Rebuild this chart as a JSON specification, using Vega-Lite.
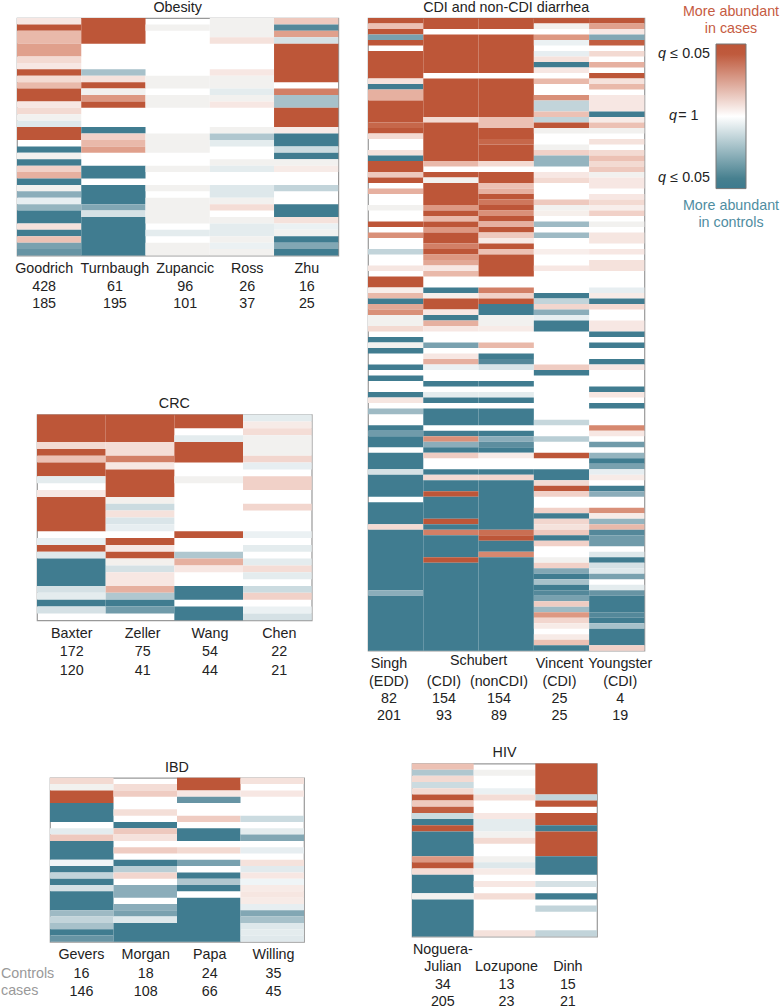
{"$schema":"https://vega.github.io/schema/vega-lite/v6.json","padding":0,"spacing":5,"config":{"view":{"stroke":null},"font":"Liberation Sans","title":{"fontWeight":"normal","fontSize":14.3,"offset":3,"color":"#222"},"text":{"font":"Liberation Sans","fontSize":14.3},"axis":{"labelFont":"Liberation Sans","labelFontSize":14.3,"labelColor":"#222","domain":false,"ticks":false,"grid":false,"title":null,"labelAngle":0,"labelBound":false,"labelFlush":false,"labelOverlap":false,"labelPadding":6,"labelBaseline":"top"}},
"hconcat":[
{"spacing":28,"hconcat":[
{"spacing":80.8,"vconcat":[
{"spacing":84.6,"vconcat":[
{"bounds":"flush","spacing":0,"hconcat":[
{"width":16.7,"height":1,"data":{"values":[{}]},"mark":{"type":"rect","opacity":0},"encoding":{}},
{"width":321.3,"height":237.5,"title":"Obesity","view":{"stroke":"#999","strokeWidth":1.2},"data":{"values":[
{"s":"Goodrich","a":0,"b":1,"v":0.12},{"s":"Goodrich","a":1,"b":2,"v":1},{"s":"Goodrich","a":2,"b":4,"v":0.4},{"s":"Goodrich","a":4,"b":6,"v":0.55},{"s":"Goodrich","a":6,"b":7,"v":0.2},{"s":"Goodrich","a":7,"b":8,"v":0.12},{"s":"Goodrich","a":8,"b":9,"v":1},{"s":"Goodrich","a":9,"b":10,"v":0.2},{"s":"Goodrich","a":10,"b":11,"v":0.4},{"s":"Goodrich","a":11,"b":13,"v":1},{"s":"Goodrich","a":13,"b":14,"v":0.12},{"s":"Goodrich","a":14,"b":15,"v":0.2},{"s":"Goodrich","a":15,"b":16,"v":0.04},{"s":"Goodrich","a":16,"b":17,"v":-0.15},{"s":"Goodrich","a":17,"b":19,"v":1},{"s":"Goodrich","a":20,"b":21,"v":-1},{"s":"Goodrich","a":21,"b":22,"v":0.04},{"s":"Goodrich","a":22,"b":23,"v":-1},{"s":"Goodrich","a":23,"b":24,"v":0.25},{"s":"Goodrich","a":24,"b":25,"v":0.45},{"s":"Goodrich","a":25,"b":26,"v":-1},{"s":"Goodrich","a":26,"b":27,"v":0.04},{"s":"Goodrich","a":27,"b":28,"v":-0.6},{"s":"Goodrich","a":28,"b":29,"v":-0.1},{"s":"Goodrich","a":29,"b":30,"v":-0.55},{"s":"Goodrich","a":30,"b":32,"v":-1},{"s":"Goodrich","a":32,"b":33,"v":0.15},{"s":"Goodrich","a":33,"b":34,"v":-1},{"s":"Goodrich","a":34,"b":35,"v":0.35},{"s":"Goodrich","a":35,"b":36,"v":-0.7},{"s":"Goodrich","a":36,"b":37,"v":-0.8},
{"s":"Turnbaugh","a":0,"b":4,"v":1},{"s":"Turnbaugh","a":8,"b":9,"v":-0.45},{"s":"Turnbaugh","a":9,"b":10,"v":0.15},{"s":"Turnbaugh","a":10,"b":11,"v":1},{"s":"Turnbaugh","a":11,"b":12,"v":0.04},{"s":"Turnbaugh","a":12,"b":13,"v":0.6},{"s":"Turnbaugh","a":13,"b":14,"v":1},{"s":"Turnbaugh","a":17,"b":18,"v":-1},{"s":"Turnbaugh","a":18,"b":19,"v":0.25},{"s":"Turnbaugh","a":19,"b":20,"v":0.4},{"s":"Turnbaugh","a":20,"b":21,"v":0.55},{"s":"Turnbaugh","a":23,"b":25,"v":-1},{"s":"Turnbaugh","a":26,"b":29,"v":-1},{"s":"Turnbaugh","a":29,"b":30,"v":-0.65},{"s":"Turnbaugh","a":30,"b":31,"v":-0.2},{"s":"Turnbaugh","a":31,"b":37,"v":-1},
{"s":"Zupancic","a":1,"b":2,"v":0.04},{"s":"Zupancic","a":9,"b":11,"v":0.04},{"s":"Zupancic","a":12,"b":14,"v":0.04},{"s":"Zupancic","a":18,"b":21,"v":0.04},{"s":"Zupancic","a":23,"b":24,"v":0.04},{"s":"Zupancic","a":26,"b":27,"v":0.04},{"s":"Zupancic","a":28,"b":32,"v":0.04},{"s":"Zupancic","a":33,"b":34,"v":-0.12},{"s":"Zupancic","a":35,"b":37,"v":0.04},
{"s":"Ross","a":0,"b":3,"v":0.04},{"s":"Ross","a":3,"b":4,"v":0.15},{"s":"Ross","a":8,"b":9,"v":0.12},{"s":"Ross","a":9,"b":11,"v":0.04},{"s":"Ross","a":11,"b":12,"v":-0.12},{"s":"Ross","a":12,"b":13,"v":0.04},{"s":"Ross","a":13,"b":14,"v":0.12},{"s":"Ross","a":17,"b":18,"v":0.04},{"s":"Ross","a":18,"b":19,"v":-0.4},{"s":"Ross","a":19,"b":20,"v":-0.12},{"s":"Ross","a":22,"b":23,"v":0.04},{"s":"Ross","a":23,"b":24,"v":-0.12},{"s":"Ross","a":26,"b":28,"v":-0.15},{"s":"Ross","a":28,"b":29,"v":0.04},{"s":"Ross","a":29,"b":30,"v":0.18},{"s":"Ross","a":31,"b":32,"v":0.04},{"s":"Ross","a":32,"b":34,"v":-0.12},{"s":"Ross","a":34,"b":35,"v":0.04},{"s":"Ross","a":35,"b":36,"v":-0.08},{"s":"Ross","a":36,"b":37,"v":0.04},
{"s":"Zhu","a":0,"b":1,"v":0.3},{"s":"Zhu","a":1,"b":2,"v":-0.9},{"s":"Zhu","a":2,"b":3,"v":0.55},{"s":"Zhu","a":3,"b":4,"v":-0.2},{"s":"Zhu","a":4,"b":10,"v":1},{"s":"Zhu","a":11,"b":12,"v":0.75},{"s":"Zhu","a":12,"b":14,"v":-0.45},{"s":"Zhu","a":14,"b":17,"v":1},{"s":"Zhu","a":17,"b":18,"v":0.1},{"s":"Zhu","a":18,"b":20,"v":-1},{"s":"Zhu","a":20,"b":21,"v":-0.25},{"s":"Zhu","a":21,"b":22,"v":-1},{"s":"Zhu","a":22,"b":23,"v":0.04},{"s":"Zhu","a":23,"b":24,"v":0.1},{"s":"Zhu","a":26,"b":27,"v":-0.3},{"s":"Zhu","a":29,"b":31,"v":-1},{"s":"Zhu","a":31,"b":32,"v":0.15},{"s":"Zhu","a":32,"b":33,"v":-0.08},{"s":"Zhu","a":33,"b":34,"v":0.04},{"s":"Zhu","a":34,"b":35,"v":-1},{"s":"Zhu","a":35,"b":36,"v":-0.65},{"s":"Zhu","a":36,"b":37,"v":-1}]},
"mark":"rect","encoding":{"x":{"field":"s","type":"nominal","scale":{"domain":["Goodrich","Turnbaugh","Zupancic","Ross","Zhu"],"paddingInner":0,"paddingOuter":0},"axis":{"labelLineHeight":17.7,"labelExpr":"{'Goodrich':['Goodrich','428','185'],'Turnbaugh':['Turnbaugh','61','195'],'Zupancic':['Zupancic','96','101'],'Ross':['Ross','26','37'],'Zhu':['Zhu','16','25']}[datum.label]","labelOffset":{"expr":"{'Goodrich':-5,'Turnbaugh':1.5,'Zupancic':7.5,'Ross':5.3,'Zhu':0.7}[datum.value]"}}},"y":{"field":"a","type":"quantitative","scale":{"domain":[0,37],"reverse":true,"nice":false,"zero":false},"axis":null},"y2":{"field":"b"},"color":{"field":"v","type":"quantitative","legend":null,"scale":{"domain":[-1,-0.08,0,0.04,0.08,1],"range":["#407c90","#ebf1f3","#ffffff","#f2f1ef","#f8eeeb","#bd5638"]}}}}]},
{"bounds":"flush","spacing":0,"hconcat":[
{"width":37,"height":1,"data":{"values":[{}]},"mark":{"type":"rect","opacity":0},"encoding":{}},
{"width":274.7,"height":205.7,"title":"CRC","view":{"stroke":"#999","strokeWidth":1.2},"data":{"values":[
{"s":"Baxter","a":0,"b":4,"v":1},{"s":"Baxter","a":4,"b":5,"v":0.2},{"s":"Baxter","a":5,"b":6,"v":1},{"s":"Baxter","a":6,"b":7,"v":0.35},{"s":"Baxter","a":7,"b":9,"v":1},{"s":"Baxter","a":9,"b":10,"v":-0.12},{"s":"Baxter","a":11,"b":12,"v":0.12},{"s":"Baxter","a":12,"b":17,"v":1},{"s":"Baxter","a":18,"b":19,"v":-0.1},{"s":"Baxter","a":19,"b":20,"v":1},{"s":"Baxter","a":20,"b":21,"v":-0.15},{"s":"Baxter","a":21,"b":25,"v":-1},{"s":"Baxter","a":25,"b":26,"v":-0.2},{"s":"Baxter","a":26,"b":27,"v":-0.12},{"s":"Baxter","a":27,"b":28,"v":-1},{"s":"Baxter","a":28,"b":29,"v":-0.2},
{"s":"Zeller","a":0,"b":4,"v":1},{"s":"Zeller","a":4,"b":6,"v":0.18},{"s":"Zeller","a":6,"b":7,"v":0.75},{"s":"Zeller","a":7,"b":8,"v":0.12},{"s":"Zeller","a":8,"b":12,"v":1},{"s":"Zeller","a":12,"b":13,"v":0.05},{"s":"Zeller","a":13,"b":14,"v":-0.25},{"s":"Zeller","a":14,"b":15,"v":0.15},{"s":"Zeller","a":15,"b":16,"v":-0.17},{"s":"Zeller","a":16,"b":17,"v":-0.1},{"s":"Zeller","a":18,"b":19,"v":1},{"s":"Zeller","a":19,"b":20,"v":0.12},{"s":"Zeller","a":20,"b":21,"v":1},{"s":"Zeller","a":21,"b":22,"v":0.05},{"s":"Zeller","a":22,"b":23,"v":-0.2},{"s":"Zeller","a":23,"b":25,"v":0.12},{"s":"Zeller","a":25,"b":26,"v":0.45},{"s":"Zeller","a":26,"b":27,"v":-0.4},{"s":"Zeller","a":27,"b":28,"v":-1},{"s":"Zeller","a":28,"b":29,"v":-0.75},
{"s":"Wang","a":0,"b":2,"v":1},{"s":"Wang","a":3,"b":4,"v":-0.12},{"s":"Wang","a":4,"b":7,"v":1},{"s":"Wang","a":9,"b":10,"v":0.04},{"s":"Wang","a":17,"b":18,"v":1},{"s":"Wang","a":20,"b":21,"v":-0.4},{"s":"Wang","a":21,"b":22,"v":0.45},{"s":"Wang","a":22,"b":23,"v":0.12},{"s":"Wang","a":25,"b":27,"v":-1},{"s":"Wang","a":28,"b":30,"v":-1},
{"s":"Chen","a":0,"b":1,"v":-0.12},{"s":"Chen","a":1,"b":2,"v":0.1},{"s":"Chen","a":2,"b":3,"v":0.18},{"s":"Chen","a":3,"b":6,"v":0.04},{"s":"Chen","a":6,"b":7,"v":0.22},{"s":"Chen","a":7,"b":8,"v":-0.1},{"s":"Chen","a":9,"b":11,"v":0.25},{"s":"Chen","a":13,"b":14,"v":0.22},{"s":"Chen","a":17,"b":18,"v":-0.08},{"s":"Chen","a":19,"b":20,"v":-0.12},{"s":"Chen","a":21,"b":22,"v":-0.12},{"s":"Chen","a":22,"b":23,"v":0.18},{"s":"Chen","a":23,"b":24,"v":-0.12},{"s":"Chen","a":25,"b":26,"v":-0.25},{"s":"Chen","a":26,"b":27,"v":0.25},{"s":"Chen","a":28,"b":29,"v":-0.08},{"s":"Chen","a":29,"b":30,"v":-0.2}]},
"mark":"rect","encoding":{"x":{"field":"s","type":"nominal","scale":{"domain":["Baxter","Zeller","Wang","Chen"],"paddingInner":0,"paddingOuter":0},"axis":{"labelLineHeight":18.6,"labelExpr":"{'Baxter':['Baxter','172','120'],'Zeller':['Zeller','75','41'],'Wang':['Wang','54','44'],'Chen':['Chen','22','21']}[datum.label]","labelOffset":{"expr":"{'Baxter':0.4,'Zeller':2.7,'Wang':1.3,'Chen':1.9}[datum.value]"}}},"y":{"field":"a","type":"quantitative","scale":{"domain":[0,30],"reverse":true,"nice":false,"zero":false},"axis":null},"y2":{"field":"b"},"color":{"field":"v","type":"quantitative","legend":null,"scale":{"domain":[-1,-0.08,0,0.04,0.08,1],"range":["#407c90","#ebf1f3","#ffffff","#f2f1ef","#f8eeeb","#bd5638"]}}}}]}
]},
{"bounds":"flush","spacing":0,"hconcat":[
{"width":49.3,"height":1,"data":{"values":[{}]},"mark":{"type":"rect","opacity":0},"encoding":{}},
{"width":254,"height":164,"title":"IBD","view":{"stroke":"#999","strokeWidth":1.2},"encoding":{"y":{"field":"a","type":"quantitative","scale":{"domain":[0,26],"reverse":true,"nice":false,"zero":false},"axis":null}},"layer":[{"data":{"values":[
{"s":"Gevers","a":0,"b":1,"v":0.2},{"s":"Gevers","a":1,"b":2,"v":0.04},{"s":"Gevers","a":2,"b":4,"v":1},{"s":"Gevers","a":4,"b":7,"v":-1},{"s":"Gevers","a":8,"b":9,"v":-0.12},{"s":"Gevers","a":9,"b":10,"v":0.3},{"s":"Gevers","a":10,"b":13,"v":-1},{"s":"Gevers","a":13,"b":14,"v":-0.06},{"s":"Gevers","a":14,"b":15,"v":-1},{"s":"Gevers","a":15,"b":16,"v":-0.3},{"s":"Gevers","a":16,"b":17,"v":-1},{"s":"Gevers","a":17,"b":18,"v":-0.2},{"s":"Gevers","a":18,"b":21,"v":-1},{"s":"Gevers","a":21,"b":22,"v":-0.5},{"s":"Gevers","a":22,"b":23,"v":-0.3},{"s":"Gevers","a":23,"b":24,"v":-0.45},{"s":"Gevers","a":24,"b":25,"v":-1},{"s":"Gevers","a":25,"b":26,"v":-0.8},
{"s":"Morgan","a":1,"b":2,"v":0.18},{"s":"Morgan","a":2,"b":3,"v":0.28},{"s":"Morgan","a":5,"b":6,"v":0.17},{"s":"Morgan","a":7,"b":8,"v":-1},{"s":"Morgan","a":8,"b":9,"v":0.3},{"s":"Morgan","a":9,"b":10,"v":0.15},{"s":"Morgan","a":11,"b":12,"v":0.28},{"s":"Morgan","a":13,"b":14,"v":-1},{"s":"Morgan","a":14,"b":15,"v":-0.35},{"s":"Morgan","a":15,"b":16,"v":0.22},{"s":"Morgan","a":17,"b":19,"v":-0.6},{"s":"Morgan","a":20,"b":21,"v":-0.6},{"s":"Morgan","a":21,"b":22,"v":-0.7},{"s":"Morgan","a":22,"b":23,"v":-0.15},{"s":"Morgan","a":23,"b":26,"v":-1},
{"s":"Papa","a":0,"b":2,"v":1},{"s":"Papa","a":2,"b":3,"v":0.12},{"s":"Papa","a":3,"b":4,"v":-0.8},{"s":"Papa","a":6,"b":7,"v":0.28},{"s":"Papa","a":8,"b":10,"v":-1},{"s":"Papa","a":11,"b":12,"v":0.2},{"s":"Papa","a":13,"b":14,"v":-0.7},{"s":"Papa","a":15,"b":16,"v":-1},{"s":"Papa","a":16,"b":17,"v":-0.4},{"s":"Papa","a":17,"b":18,"v":-1},{"s":"Papa","a":19,"b":26,"v":-1},
{"s":"Willing","a":0,"b":1,"v":0.15},{"s":"Willing","a":2,"b":3,"v":0.12},{"s":"Willing","a":6,"b":7,"v":-0.25},{"s":"Willing","a":8,"b":9,"v":-0.12},{"s":"Willing","a":9,"b":10,"v":-0.65},{"s":"Willing","a":11,"b":12,"v":-0.1},{"s":"Willing","a":13,"b":14,"v":0.15},{"s":"Willing","a":14,"b":15,"v":-0.13},{"s":"Willing","a":15,"b":16,"v":0.12},{"s":"Willing","a":16,"b":17,"v":-0.06},{"s":"Willing","a":17,"b":18,"v":0.1},{"s":"Willing","a":18,"b":19,"v":0.13},{"s":"Willing","a":19,"b":20,"v":0.1},{"s":"Willing","a":20,"b":21,"v":-0.1},{"s":"Willing","a":21,"b":22,"v":-0.65},{"s":"Willing","a":22,"b":23,"v":-0.45},{"s":"Willing","a":23,"b":24,"v":-0.15},{"s":"Willing","a":24,"b":25,"v":-0.12},{"s":"Willing","a":25,"b":26,"v":-0.14}]},
"mark":"rect","encoding":{"x":{"field":"s","type":"nominal","scale":{"domain":["Gevers","Morgan","Papa","Willing"],"paddingInner":0,"paddingOuter":0},"axis":{"labelLineHeight":18.3,"labelExpr":"{'Gevers':['Gevers','16','146'],'Morgan':['Morgan','18','108'],'Papa':['Papa','24','66'],'Willing':['Willing','35','45']}[datum.label]","labelOffset":{"expr":"{'Gevers':-0.3,'Morgan':0.5,'Papa':1,'Willing':1.2}[datum.value]"}}},"y2":{"field":"b"},"color":{"field":"v","type":"quantitative","legend":null,"scale":{"domain":[-1,-0.08,0,0.04,0.08,1],"range":["#407c90","#ebf1f3","#ffffff","#f2f1ef","#f8eeeb","#bd5638"]}}}},
{"data":{"values":[{"s":"Gevers","a":26}]},"mark":{"type":"text","text":["Controls","cases"],"lineHeight":17.7,"baseline":"top","align":"left","dx":-49,"dy":25,"color":"#999"},"encoding":{"x":{"field":"s","type":"nominal","bandPosition":0}}}]}]}
]},
{"spacing":21.5,"vconcat":[
{"width":276.4,"height":632.7,"title":"CDI and non-CDI diarrhea","view":{"stroke":"#999","strokeWidth":1.2},"encoding":{"y":{"field":"a","type":"quantitative","scale":{"domain":[0,115],"reverse":true,"nice":false,"zero":false},"axis":null}},"layer":[{"data":{"values":[
{"s":"Singh","a":0,"b":1,"v":1},{"s":"Singh","a":1,"b":2,"v":0.35},{"s":"Singh","a":2,"b":3,"v":1},{"s":"Singh","a":3,"b":4,"v":-0.7},{"s":"Singh","a":4,"b":5,"v":1},{"s":"Singh","a":6,"b":11,"v":1},{"s":"Singh","a":11,"b":12,"v":0.15},{"s":"Singh","a":12,"b":13,"v":-1},{"s":"Singh","a":13,"b":15,"v":0.45},{"s":"Singh","a":15,"b":19,"v":1},{"s":"Singh","a":19,"b":20,"v":0.9},{"s":"Singh","a":20,"b":21,"v":1},{"s":"Singh","a":21,"b":22,"v":0.2},{"s":"Singh","a":24,"b":25,"v":0.15},{"s":"Singh","a":25,"b":26,"v":-1},{"s":"Singh","a":26,"b":28,"v":1},{"s":"Singh","a":28,"b":29,"v":0.3},{"s":"Singh","a":29,"b":30,"v":1},{"s":"Singh","a":31,"b":32,"v":0.45},{"s":"Singh","a":34,"b":35,"v":0.04},{"s":"Singh","a":37,"b":38,"v":1},{"s":"Singh","a":39,"b":40,"v":0.65},{"s":"Singh","a":42,"b":43,"v":-0.3},{"s":"Singh","a":45,"b":46,"v":0.13},{"s":"Singh","a":47,"b":49,"v":1},{"s":"Singh","a":49,"b":50,"v":0.08},{"s":"Singh","a":50,"b":51,"v":0.4},{"s":"Singh","a":51,"b":52,"v":-1},{"s":"Singh","a":52,"b":53,"v":0.5},{"s":"Singh","a":53,"b":54,"v":0.65},{"s":"Singh","a":54,"b":56,"v":0.04},{"s":"Singh","a":56,"b":57,"v":0.2},{"s":"Singh","a":58,"b":59,"v":-1},{"s":"Singh","a":59,"b":60,"v":0.04},{"s":"Singh","a":60,"b":61,"v":-1},{"s":"Singh","a":63,"b":64,"v":-1},{"s":"Singh","a":65,"b":66,"v":-1},{"s":"Singh","a":68,"b":69,"v":-1},{"s":"Singh","a":69,"b":70,"v":0.13},{"s":"Singh","a":71,"b":72,"v":-0.5},{"s":"Singh","a":74,"b":75,"v":-1},{"s":"Singh","a":75,"b":76,"v":-0.75},{"s":"Singh","a":76,"b":78,"v":-1},{"s":"Singh","a":79,"b":82,"v":-1},{"s":"Singh","a":82,"b":83,"v":-0.2},{"s":"Singh","a":83,"b":87,"v":-1},{"s":"Singh","a":88,"b":92,"v":-1},{"s":"Singh","a":92,"b":93,"v":0.2},{"s":"Singh","a":93,"b":104,"v":-1},{"s":"Singh","a":104,"b":105,"v":-0.6},{"s":"Singh","a":105,"b":115,"v":-1},
{"s":"SchubertCDI","a":0,"b":2,"v":1},{"s":"SchubertCDI","a":3,"b":10,"v":1},{"s":"SchubertCDI","a":11,"b":18,"v":1},{"s":"SchubertCDI","a":18,"b":19,"v":0.2},{"s":"SchubertCDI","a":19,"b":26,"v":1},{"s":"SchubertCDI","a":26,"b":27,"v":0.4},{"s":"SchubertCDI","a":28,"b":29,"v":1},{"s":"SchubertCDI","a":29,"b":30,"v":0.04},{"s":"SchubertCDI","a":30,"b":34,"v":1},{"s":"SchubertCDI","a":34,"b":35,"v":0.6},{"s":"SchubertCDI","a":35,"b":36,"v":1},{"s":"SchubertCDI","a":36,"b":37,"v":0.4},{"s":"SchubertCDI","a":37,"b":38,"v":1},{"s":"SchubertCDI","a":38,"b":39,"v":0.6},{"s":"SchubertCDI","a":39,"b":41,"v":1},{"s":"SchubertCDI","a":41,"b":42,"v":0.75},{"s":"SchubertCDI","a":42,"b":43,"v":1},{"s":"SchubertCDI","a":43,"b":44,"v":0.6},{"s":"SchubertCDI","a":44,"b":45,"v":0.5},{"s":"SchubertCDI","a":45,"b":46,"v":0.12},{"s":"SchubertCDI","a":46,"b":47,"v":0.4},{"s":"SchubertCDI","a":49,"b":50,"v":-1},{"s":"SchubertCDI","a":50,"b":51,"v":0.07},{"s":"SchubertCDI","a":51,"b":53,"v":1},{"s":"SchubertCDI","a":53,"b":54,"v":0.12},{"s":"SchubertCDI","a":54,"b":55,"v":-1},{"s":"SchubertCDI","a":55,"b":56,"v":0.45},{"s":"SchubertCDI","a":56,"b":57,"v":0.12},{"s":"SchubertCDI","a":59,"b":60,"v":-0.7},{"s":"SchubertCDI","a":61,"b":62,"v":0.12},{"s":"SchubertCDI","a":62,"b":63,"v":0.45},{"s":"SchubertCDI","a":63,"b":64,"v":-0.08},{"s":"SchubertCDI","a":66,"b":67,"v":-1},{"s":"SchubertCDI","a":68,"b":69,"v":-0.12},{"s":"SchubertCDI","a":69,"b":70,"v":-1},{"s":"SchubertCDI","a":71,"b":74,"v":-1},{"s":"SchubertCDI","a":75,"b":76,"v":-1},{"s":"SchubertCDI","a":76,"b":77,"v":0.65},{"s":"SchubertCDI","a":77,"b":78,"v":-0.6},{"s":"SchubertCDI","a":78,"b":79,"v":-1},{"s":"SchubertCDI","a":79,"b":80,"v":0.28},{"s":"SchubertCDI","a":82,"b":83,"v":-1},{"s":"SchubertCDI","a":83,"b":84,"v":0.2},{"s":"SchubertCDI","a":84,"b":86,"v":-1},{"s":"SchubertCDI","a":86,"b":87,"v":1},{"s":"SchubertCDI","a":87,"b":91,"v":-1},{"s":"SchubertCDI","a":91,"b":92,"v":1},{"s":"SchubertCDI","a":92,"b":93,"v":-1},{"s":"SchubertCDI","a":93,"b":94,"v":0.75},{"s":"SchubertCDI","a":94,"b":98,"v":-1},{"s":"SchubertCDI","a":98,"b":99,"v":1},{"s":"SchubertCDI","a":99,"b":115,"v":-1},
{"s":"SchubertNon","a":0,"b":2,"v":1},{"s":"SchubertNon","a":3,"b":10,"v":1},{"s":"SchubertNon","a":11,"b":18,"v":1},{"s":"SchubertNon","a":18,"b":20,"v":0.35},{"s":"SchubertNon","a":20,"b":22,"v":1},{"s":"SchubertNon","a":22,"b":23,"v":0.9},{"s":"SchubertNon","a":23,"b":26,"v":1},{"s":"SchubertNon","a":26,"b":27,"v":0.2},{"s":"SchubertNon","a":28,"b":30,"v":1},{"s":"SchubertNon","a":30,"b":31,"v":0.35},{"s":"SchubertNon","a":31,"b":32,"v":0.45},{"s":"SchubertNon","a":32,"b":33,"v":1},{"s":"SchubertNon","a":33,"b":34,"v":0.8},{"s":"SchubertNon","a":34,"b":35,"v":1},{"s":"SchubertNon","a":35,"b":36,"v":0.65},{"s":"SchubertNon","a":36,"b":37,"v":1},{"s":"SchubertNon","a":37,"b":38,"v":0.45},{"s":"SchubertNon","a":38,"b":39,"v":1},{"s":"SchubertNon","a":39,"b":40,"v":0.3},{"s":"SchubertNon","a":40,"b":41,"v":0.1},{"s":"SchubertNon","a":41,"b":42,"v":1},{"s":"SchubertNon","a":42,"b":43,"v":0.35},{"s":"SchubertNon","a":43,"b":47,"v":1},{"s":"SchubertNon","a":49,"b":50,"v":0.75},{"s":"SchubertNon","a":50,"b":51,"v":0.25},{"s":"SchubertNon","a":51,"b":52,"v":1},{"s":"SchubertNon","a":52,"b":54,"v":-1},{"s":"SchubertNon","a":54,"b":56,"v":0.04},{"s":"SchubertNon","a":56,"b":57,"v":0.1},{"s":"SchubertNon","a":59,"b":60,"v":0.4},{"s":"SchubertNon","a":61,"b":62,"v":-1},{"s":"SchubertNon","a":62,"b":63,"v":-0.9},{"s":"SchubertNon","a":63,"b":64,"v":-0.18},{"s":"SchubertNon","a":66,"b":67,"v":-1},{"s":"SchubertNon","a":68,"b":69,"v":-0.12},{"s":"SchubertNon","a":69,"b":70,"v":-1},{"s":"SchubertNon","a":71,"b":74,"v":-1},{"s":"SchubertNon","a":75,"b":76,"v":-1},{"s":"SchubertNon","a":76,"b":77,"v":-0.6},{"s":"SchubertNon","a":77,"b":78,"v":-0.85},{"s":"SchubertNon","a":78,"b":79,"v":-1},{"s":"SchubertNon","a":79,"b":80,"v":0.1},{"s":"SchubertNon","a":82,"b":83,"v":-1},{"s":"SchubertNon","a":83,"b":84,"v":0.22},{"s":"SchubertNon","a":84,"b":93,"v":-1},{"s":"SchubertNon","a":93,"b":94,"v":0.85},{"s":"SchubertNon","a":94,"b":95,"v":1},{"s":"SchubertNon","a":95,"b":97,"v":-1},{"s":"SchubertNon","a":97,"b":98,"v":0.7},{"s":"SchubertNon","a":98,"b":115,"v":-1},
{"s":"Vincent","a":0,"b":1,"v":1},{"s":"Vincent","a":1,"b":2,"v":0.05},{"s":"Vincent","a":3,"b":4,"v":0.6},{"s":"Vincent","a":4,"b":5,"v":-0.08},{"s":"Vincent","a":6,"b":7,"v":-0.1},{"s":"Vincent","a":7,"b":8,"v":0.15},{"s":"Vincent","a":8,"b":9,"v":-1},{"s":"Vincent","a":9,"b":10,"v":0.12},{"s":"Vincent","a":11,"b":12,"v":0.4},{"s":"Vincent","a":14,"b":15,"v":0.65},{"s":"Vincent","a":15,"b":17,"v":-0.3},{"s":"Vincent","a":17,"b":18,"v":0.35},{"s":"Vincent","a":18,"b":19,"v":-0.3},{"s":"Vincent","a":19,"b":20,"v":1},{"s":"Vincent","a":20,"b":21,"v":0.04},{"s":"Vincent","a":23,"b":24,"v":0.04},{"s":"Vincent","a":24,"b":25,"v":0.25},{"s":"Vincent","a":25,"b":27,"v":-0.55},{"s":"Vincent","a":28,"b":29,"v":0.12},{"s":"Vincent","a":29,"b":30,"v":0.2},{"s":"Vincent","a":33,"b":34,"v":0.3},{"s":"Vincent","a":34,"b":35,"v":0.04},{"s":"Vincent","a":35,"b":36,"v":0.07},{"s":"Vincent","a":37,"b":38,"v":-0.5},{"s":"Vincent","a":39,"b":40,"v":-0.5},{"s":"Vincent","a":42,"b":43,"v":0.08},{"s":"Vincent","a":45,"b":46,"v":0.12},{"s":"Vincent","a":50,"b":51,"v":-1},{"s":"Vincent","a":51,"b":52,"v":-0.3},{"s":"Vincent","a":52,"b":53,"v":0.22},{"s":"Vincent","a":53,"b":54,"v":-0.6},{"s":"Vincent","a":54,"b":55,"v":-0.1},{"s":"Vincent","a":55,"b":57,"v":-1},{"s":"Vincent","a":63,"b":64,"v":0.28},{"s":"Vincent","a":64,"b":65,"v":-1},{"s":"Vincent","a":73,"b":74,"v":-0.28},{"s":"Vincent","a":76,"b":77,"v":-0.35},{"s":"Vincent","a":79,"b":80,"v":1},{"s":"Vincent","a":82,"b":84,"v":-1},{"s":"Vincent","a":84,"b":85,"v":0.2},{"s":"Vincent","a":85,"b":86,"v":1},{"s":"Vincent","a":86,"b":87,"v":0.25},{"s":"Vincent","a":89,"b":90,"v":0.25},{"s":"Vincent","a":90,"b":91,"v":-1},{"s":"Vincent","a":91,"b":92,"v":0.22},{"s":"Vincent","a":92,"b":93,"v":0.15},{"s":"Vincent","a":93,"b":94,"v":0.3},{"s":"Vincent","a":94,"b":95,"v":-1},{"s":"Vincent","a":95,"b":96,"v":0.25},{"s":"Vincent","a":98,"b":99,"v":0.04},{"s":"Vincent","a":99,"b":100,"v":0.25},{"s":"Vincent","a":100,"b":101,"v":-0.65},{"s":"Vincent","a":101,"b":102,"v":-1},{"s":"Vincent","a":102,"b":103,"v":-0.45},{"s":"Vincent","a":103,"b":104,"v":-1},{"s":"Vincent","a":104,"b":105,"v":-0.9},{"s":"Vincent","a":105,"b":106,"v":-0.7},{"s":"Vincent","a":106,"b":107,"v":0.28},{"s":"Vincent","a":107,"b":108,"v":-0.5},{"s":"Vincent","a":108,"b":109,"v":0.6},{"s":"Vincent","a":109,"b":110,"v":0.22},{"s":"Vincent","a":110,"b":111,"v":0.1},{"s":"Vincent","a":112,"b":113,"v":0.1},{"s":"Vincent","a":113,"b":114,"v":0.35},{"s":"Vincent","a":114,"b":115,"v":-1},
{"s":"Youngster","a":0,"b":1,"v":1},{"s":"Youngster","a":1,"b":2,"v":0.55},{"s":"Youngster","a":2,"b":3,"v":0.12},{"s":"Youngster","a":3,"b":4,"v":-0.65},{"s":"Youngster","a":4,"b":5,"v":0.95},{"s":"Youngster","a":6,"b":7,"v":0.2},{"s":"Youngster","a":8,"b":9,"v":0.45},{"s":"Youngster","a":10,"b":11,"v":1},{"s":"Youngster","a":11,"b":12,"v":0.15},{"s":"Youngster","a":12,"b":13,"v":0.4},{"s":"Youngster","a":14,"b":17,"v":0.12},{"s":"Youngster","a":17,"b":18,"v":-1},{"s":"Youngster","a":18,"b":19,"v":0.1},{"s":"Youngster","a":19,"b":20,"v":0.35},{"s":"Youngster","a":20,"b":21,"v":0.04},{"s":"Youngster","a":22,"b":23,"v":0.15},{"s":"Youngster","a":24,"b":25,"v":0.2},{"s":"Youngster","a":25,"b":26,"v":0.35},{"s":"Youngster","a":26,"b":27,"v":0.2},{"s":"Youngster","a":27,"b":28,"v":0.3},{"s":"Youngster","a":28,"b":29,"v":0.04},{"s":"Youngster","a":29,"b":31,"v":0.12},{"s":"Youngster","a":32,"b":33,"v":0.12},{"s":"Youngster","a":33,"b":34,"v":0.2},{"s":"Youngster","a":34,"b":35,"v":0.08},{"s":"Youngster","a":35,"b":36,"v":0.25},{"s":"Youngster","a":37,"b":38,"v":0.04},{"s":"Youngster","a":39,"b":41,"v":0.13},{"s":"Youngster","a":42,"b":43,"v":0.12},{"s":"Youngster","a":44,"b":46,"v":0.15},{"s":"Youngster","a":49,"b":50,"v":-0.1},{"s":"Youngster","a":50,"b":51,"v":0.1},{"s":"Youngster","a":51,"b":52,"v":-1},{"s":"Youngster","a":52,"b":53,"v":0.2},{"s":"Youngster","a":55,"b":57,"v":0.12},{"s":"Youngster","a":57,"b":58,"v":-1},{"s":"Youngster","a":59,"b":60,"v":-1},{"s":"Youngster","a":62,"b":63,"v":-1},{"s":"Youngster","a":63,"b":64,"v":0.12},{"s":"Youngster","a":67,"b":68,"v":-1},{"s":"Youngster","a":68,"b":69,"v":0.13},{"s":"Youngster","a":70,"b":71,"v":-1},{"s":"Youngster","a":74,"b":75,"v":0.7},{"s":"Youngster","a":75,"b":76,"v":0.12},{"s":"Youngster","a":77,"b":78,"v":-0.75},{"s":"Youngster","a":79,"b":80,"v":-0.55},{"s":"Youngster","a":80,"b":81,"v":-1},{"s":"Youngster","a":81,"b":82,"v":-0.7},{"s":"Youngster","a":82,"b":83,"v":-0.1},{"s":"Youngster","a":83,"b":84,"v":0.1},{"s":"Youngster","a":85,"b":86,"v":-1},{"s":"Youngster","a":86,"b":87,"v":-0.6},{"s":"Youngster","a":89,"b":90,"v":0.65},{"s":"Youngster","a":90,"b":91,"v":0.1},{"s":"Youngster","a":91,"b":92,"v":-0.55},{"s":"Youngster","a":92,"b":93,"v":0.4},{"s":"Youngster","a":93,"b":94,"v":-0.9},{"s":"Youngster","a":94,"b":96,"v":-0.75},{"s":"Youngster","a":97,"b":98,"v":-0.15},{"s":"Youngster","a":98,"b":99,"v":-1},{"s":"Youngster","a":99,"b":100,"v":-0.2},{"s":"Youngster","a":100,"b":101,"v":-0.15},{"s":"Youngster","a":101,"b":102,"v":-0.7},{"s":"Youngster","a":103,"b":104,"v":-0.12},{"s":"Youngster","a":104,"b":105,"v":-0.8},{"s":"Youngster","a":105,"b":108,"v":-1},{"s":"Youngster","a":108,"b":109,"v":-0.9},{"s":"Youngster","a":109,"b":110,"v":-1},{"s":"Youngster","a":110,"b":111,"v":-0.45},{"s":"Youngster","a":111,"b":114,"v":-1},{"s":"Youngster","a":114,"b":115,"v":0.25}]},
"mark":"rect","encoding":{"x":{"field":"s","type":"nominal","scale":{"domain":["Singh","SchubertCDI","SchubertNon","Vincent","Youngster"],"paddingInner":0,"paddingOuter":0},"axis":{"labelLineHeight":17.4,"labelExpr":"{'Singh':['Singh','(EDD)','82','201'],'SchubertCDI':['','(CDI)','154','93'],'SchubertNon':['','(nonCDI)','154','89'],'Vincent':['Vincent','(CDI)','25','25'],'Youngster':['Youngster','(CDI)','4','19']}[datum.label]","labelOffset":{"expr":"{'Singh':-6.7,'SchubertCDI':-7,'SchubertNon':-7.3,'Vincent':-2,'Youngster':3.5}[datum.value]"}}},"y2":{"field":"b"},"color":{"field":"v","type":"quantitative","legend":null,"scale":{"domain":[-1,-0.08,0,0.04,0.08,1],"range":["#407c90","#ebf1f3","#ffffff","#f2f1ef","#f8eeeb","#bd5638"]}}}},
{"data":{"values":[{"s":"SchubertCDI","a":115,"t":"Schubert"}]},"mark":{"type":"text","baseline":"middle","align":"center","dy":10,"color":"#222"},"encoding":{"x":{"field":"s","type":"nominal","bandPosition":1},"text":{"field":"t"}}}]},
{"bounds":"flush","spacing":0,"hconcat":[
{"width":43.7,"height":1,"data":{"values":[{}]},"mark":{"type":"rect","opacity":0},"encoding":{}},
{"width":185,"height":173,"title":"HIV","view":{"stroke":"#999","strokeWidth":1.2},"data":{"values":[
{"s":"Noguera","a":0,"b":1,"v":0.35},{"s":"Noguera","a":1,"b":2,"v":-0.4},{"s":"Noguera","a":2,"b":3,"v":0.2},{"s":"Noguera","a":3,"b":4,"v":-0.25},{"s":"Noguera","a":4,"b":5,"v":0.2},{"s":"Noguera","a":5,"b":6,"v":1},{"s":"Noguera","a":6,"b":7,"v":0.3},{"s":"Noguera","a":7,"b":8,"v":0.95},{"s":"Noguera","a":8,"b":9,"v":-0.25},{"s":"Noguera","a":9,"b":10,"v":-1},{"s":"Noguera","a":10,"b":11,"v":1},{"s":"Noguera","a":11,"b":15,"v":-1},{"s":"Noguera","a":15,"b":16,"v":0.6},{"s":"Noguera","a":16,"b":17,"v":1},{"s":"Noguera","a":17,"b":18,"v":0.18},{"s":"Noguera","a":18,"b":21,"v":-1},{"s":"Noguera","a":21,"b":22,"v":0.04},{"s":"Noguera","a":22,"b":28,"v":-1},
{"s":"Lozupone","a":1,"b":2,"v":0.04},{"s":"Lozupone","a":4,"b":5,"v":-0.08},{"s":"Lozupone","a":5,"b":6,"v":0.18},{"s":"Lozupone","a":8,"b":9,"v":0.12},{"s":"Lozupone","a":9,"b":11,"v":-0.12},{"s":"Lozupone","a":11,"b":12,"v":0.04},{"s":"Lozupone","a":12,"b":13,"v":0.2},{"s":"Lozupone","a":15,"b":16,"v":0.04},{"s":"Lozupone","a":16,"b":17,"v":-0.15},{"s":"Lozupone","a":17,"b":18,"v":0.1},{"s":"Lozupone","a":19,"b":20,"v":0.12},{"s":"Lozupone","a":21,"b":22,"v":0.18},{"s":"Lozupone","a":27,"b":28,"v":0.15},
{"s":"Dinh","a":0,"b":5,"v":1},{"s":"Dinh","a":5,"b":6,"v":-0.3},{"s":"Dinh","a":6,"b":7,"v":1},{"s":"Dinh","a":8,"b":10,"v":1},{"s":"Dinh","a":10,"b":11,"v":-1},{"s":"Dinh","a":11,"b":15,"v":1},{"s":"Dinh","a":15,"b":18,"v":-1},{"s":"Dinh","a":19,"b":20,"v":-0.2},{"s":"Dinh","a":21,"b":22,"v":-1},{"s":"Dinh","a":23,"b":24,"v":-0.3},{"s":"Dinh","a":27,"b":28,"v":-0.3}]},
"mark":"rect","encoding":{"x":{"field":"s","type":"nominal","scale":{"domain":["Noguera","Lozupone","Dinh"],"paddingInner":0,"paddingOuter":0},"axis":{"labelLineHeight":17.3,"labelExpr":"{'Noguera':['Noguera-','Julian','34','205'],'Lozupone':['','Lozupone','13','23'],'Dinh':['','Dinh','15','21']}[datum.label]","labelOffset":{"expr":"{'Noguera':0,'Lozupone':2,'Dinh':1.7}[datum.value]"}}},"y":{"field":"a","type":"quantitative","scale":{"domain":[0,28],"reverse":true,"nice":false,"zero":false},"axis":null},"y2":{"field":"b"},"color":{"field":"v","type":"quantitative","legend":null,"scale":{"domain":[-1,-0.08,0,0.04,0.08,1],"range":["#407c90","#ebf1f3","#ffffff","#f2f1ef","#f8eeeb","#bd5638"]}}}}]}
]}]},
{"bounds":"flush","spacing":0,"vconcat":[
{"width":1,"height":25.4,"data":{"values":[{}]},"mark":{"type":"rect","opacity":0},"encoding":{}},
{"width":30,"height":144.6,"data":{"values":[{"x0":0,"x1":1,"lo":-1.166,"hi":1.166,"mid":0.5}]},"encoding":{"x":{"field":"x0","type":"quantitative","scale":{"domain":[0,1],"nice":false,"zero":false},"axis":null},"y":{"field":"lo","type":"quantitative","scale":{"domain":[-1.166,1.166],"nice":false,"zero":false},"axis":null}},"layer":[
{"mark":{"type":"rect","stroke":"#777","strokeWidth":1,"fill":{"gradient":"linear","x1":0,"y1":0,"x2":0,"y2":1,"stops":[{"offset":0,"color":"#bd5638"},{"offset":0.07,"color":"#bf5a3d"},{"offset":0.5,"color":"#ffffff"},{"offset":0.93,"color":"#47808f"},{"offset":1,"color":"#3d7a8e"}]}},"encoding":{"x2":{"field":"x1"},"y2":{"field":"hi"}}},
{"data":{"values":[{"x0":0,"v":1,"t":"≤ 0.05"},{"x0":0,"v":-1,"t":"≤ 0.05"}]},"mark":{"type":"text","align":"right","baseline":"middle","dx":-6,"color":"#222"},"encoding":{"y":{"field":"v","type":"quantitative"},"text":{"field":"t"}}},
{"data":{"values":[{"x0":0,"v":1,"t":"q"},{"x0":0,"v":-1,"t":"q"}]},"mark":{"type":"text","align":"left","baseline":"middle","dx":-58,"fontStyle":"italic","color":"#222"},"encoding":{"y":{"field":"v","type":"quantitative"},"text":{"field":"t"}}},
{"data":{"values":[{"x0":0,"v":0,"t":"= 1"}]},"mark":{"type":"text","align":"right","baseline":"middle","dx":-17.5,"color":"#222"},"encoding":{"y":{"field":"v","type":"quantitative"},"text":{"field":"t"}}},
{"data":{"values":[{"x0":0,"v":0,"t":"q"}]},"mark":{"type":"text","align":"left","baseline":"middle","dx":-47,"fontStyle":"italic","color":"#222"},"encoding":{"y":{"field":"v","type":"quantitative"},"text":{"field":"t"}}},
{"data":{"values":[{"m":0.5,"v":1.166}]},"mark":{"type":"text","text":["More abundant","in cases"],"lineHeight":17.3,"baseline":"top","align":"center","dy":-39,"color":"#c65b42"},"encoding":{"x":{"field":"m","type":"quantitative"},"y":{"field":"v","type":"quantitative"}}},
{"data":{"values":[{"m":0.5,"v":-1.166}]},"mark":{"type":"text","text":["More abundant","in controls"],"lineHeight":17.3,"baseline":"top","align":"center","dy":10,"color":"#4f8da1"},"encoding":{"x":{"field":"m","type":"quantitative"},"y":{"field":"v","type":"quantitative"}}}
]}]}
]}
